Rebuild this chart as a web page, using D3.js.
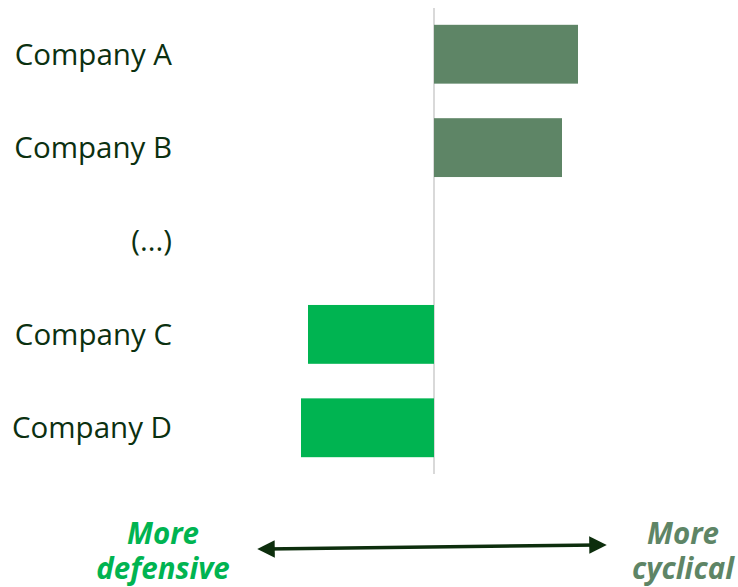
<!DOCTYPE html>
<meta charset="utf-8">
<script src="https://d3js.org/d3.v7.js"></script>
<style>
  body { margin: 0; background: #fff; }
  text { font-family: "Open Sans", sans-serif; }
</style>
<div id="my_dataviz"></div>
<script>

// data
const companies = ["Company A", "Company B", "(...)", "Company C", "Company D"];
const scores = [1.44, 1.28, null, -1.26, -1.33];   // >0 more cyclical, <0 more defensive
const endLabels = [["More", "defensive"], ["More", "cyclical"]];

const colCyclical = "#5e8566",
      colDefensive = "#00b451",
      colText = "#0b3010";

const width = 738, height = 587;

const svg = d3.select("#my_dataviz")
  .append("svg")
  .attr("width", width)
  .attr("height", height);

// scales
const x = d3.scaleLinear()
  .domain([-3, 3])
  .range([134, 734]);   // zero lands at 434

const y = d3.scaleBand()
  .domain(companies)
  .range([8, 474])
  .paddingInner(0.37)
  .paddingOuter(0.18);

// zero line
svg.append("line")
  .attr("x1", x(0)).attr("x2", x(0))
  .attr("y1", 8).attr("y2", 474)
  .attr("stroke", "#d9d9d9")
  .attr("stroke-width", 2);

// bars
const rows = companies.map((c, i) => ({name: c, v: scores[i]}));

svg.append("g")
  .selectAll("rect")
  .data(rows.filter(d => d.v != null))
  .join("rect")
    .attr("x", d => x(Math.min(0, d.v)))
    .attr("width", d => Math.abs(x(d.v) - x(0)))
    .attr("y", d => y(d.name))
    .attr("height", y.bandwidth())
    .attr("fill", d => d.v > 0 ? colCyclical : colDefensive);

// category labels
svg.append("g")
  .selectAll("text")
  .data(companies)
  .join("text")
    .attr("x", 172)
    .attr("y", d => y(d) + y.bandwidth() / 2)
    .attr("dy", "0.35em")
    .attr("text-anchor", "end")
    .attr("fill", colText)
    .style("font-size", "29.5px")
    .text(d => d);

// arrow
const defs = svg.append("defs");
defs.append("marker")
  .attr("id", "arrowhead")
  .attr("viewBox", "0 0 10 10")
  .attr("refX", 5).attr("refY", 5)
  .attr("markerWidth", 5).attr("markerHeight", 5)
  .attr("orient", "auto-start-reverse")
  .append("path")
    .attr("d", "M0,0 L10,5 L0,10 Z")
    .attr("fill", "#0d2e0d");

svg.append("line")
  .attr("x1", 266).attr("y1", 549)
  .attr("x2", 598).attr("y2", 545)
  .attr("stroke", "#0d2e0d")
  .attr("stroke-width", 3.5)
  .attr("marker-start", "url(#arrowhead)")
  .attr("marker-end", "url(#arrowhead)");

// end labels, one text per line
const ends = [
  {lines: endLabels[0], cx: 163, col: colDefensive},
  {lines: endLabels[1], cx: 683, col: colCyclical}
];

ends.forEach(e => {
  svg.append("g")
    .selectAll("text")
    .data(e.lines)
    .join("text")
      .attr("x", e.cx)
      .attr("y", (d, i) => 544 + i * 35)
      .attr("text-anchor", "middle")
      .attr("fill", e.col)
      .style("font-size", "29.5px")
      .style("font-weight", "bold")
      .style("font-style", "italic")
      .text(d => d);
});

</script>
